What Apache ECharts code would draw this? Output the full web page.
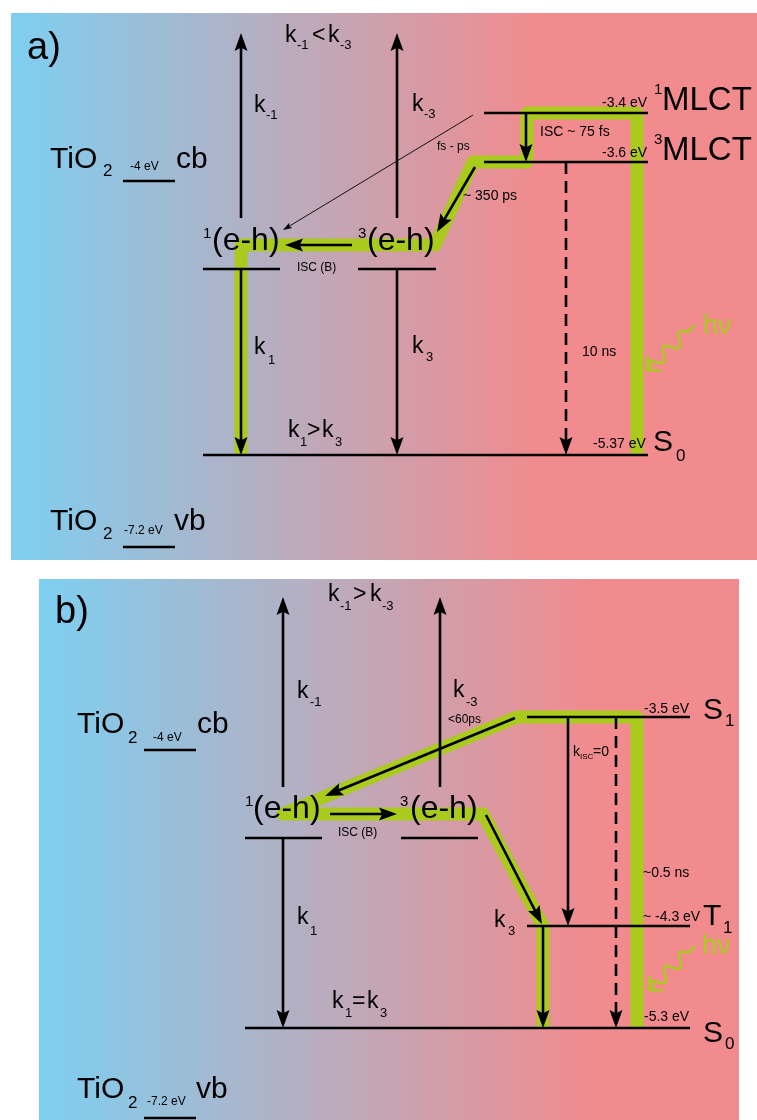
<!DOCTYPE html>
<html><head><meta charset="utf-8">
<script src="https://cdn.jsdelivr.net/npm/echarts@6/dist/echarts.min.js"></script>
<style>html,body{margin:0;padding:0;background:#fff}#c{width:757px;height:1120px}</style>
</head><body><div id="c"></div>
<script>
// Panel backgrounds: [x0, y0, x1, y1, position where pink is reached]
const panels = [[11, 13, 757, 560, 0.71], [39, 579, 739, 1120, 0.79]];
// Energy level bars: [x0, x1, y]
const levels = [
  [123, 175, 181], [123, 175, 547], [203, 280, 269], [358, 436, 269],
  [484, 648, 113], [484, 648, 162], [203, 648, 455],
  [144, 196, 750], [144, 196, 1118], [245, 322, 838], [401, 478, 838],
  [527, 690, 717], [527, 690, 926], [245, 690, 1028]
];
// Green electron pathways (polylines)
const greenPaths = [
  [[241, 455], [241, 245], [435, 245], [473, 162], [527, 162], [527, 113], [637, 113], [637, 455]],
  [[637, 1028], [637, 717], [517, 717], [283, 814], [483, 814], [543, 926], [543, 1028]]
];
// Solid arrows: [x0, y0, x1(tip), y1(tip)]
const arrows = [
  [241, 218, 241, 33], [397, 218, 397, 33], [241, 270, 241, 455], [397, 270, 397, 455],
  [526, 113, 526, 162], [475, 167, 437, 232], [352, 245, 285, 245],
  [283, 787, 283, 597], [440, 787, 440, 597], [283, 838, 283, 1028], [543, 926, 543, 1028],
  [330, 814, 397, 814], [515, 718, 325, 796], [486, 815, 542, 924], [568, 717, 568, 926]
];
const dashedArrows = [[566, 162, 566, 455], [616, 717, 616, 1028]];
const thinArrows = [[473, 115, 283, 230]];
const photonArrows = [[695, 325, 647, 370], [695, 946, 649, 990]];
// Text labels: [text, x, y, kind]
const labels = [
  ['a)', 27, 49, 'panel'],
  ['TiO', 50, 160, 'big'], ['2', 103, 171, 'sub'], ['-4 eV', 130, 167, 'tiny'], ['cb', 176, 160, 'big'],
  ['k', 254, 106, 'k'], ['-1', 266, 115, 'ksub'],
  ['k', 285, 36, 'k'], ['-1', 297, 45, 'ksub'], ['<', 312, 36, 'k'], ['k', 328, 36, 'k'], ['-3', 340, 45, 'ksub'],
  ['k', 412, 105, 'k'], ['-3', 424, 114, 'ksub'],
  ['1', 203, 234, 'sup'], ['(e-h)', 212, 241, 'eh'],
  ['3', 358, 234, 'sup'], ['(e-h)', 367, 241, 'eh'],
  ['ISC (B)', 297, 268, 'tiny'],
  ['fs - ps', 437, 147, 'tiny'],
  ['~ 350 ps', 463, 196, 'small'],
  ['ISC ~ 75 fs', 540, 132, 'small'],
  ['-3.4 eV', 602, 103, 'small'], ['1', 654, 90, 'sup'], ['MLCT', 662, 101, 'mlct'],
  ['-3.6 eV', 602, 153, 'small'], ['3', 654, 140, 'sup'], ['MLCT', 662, 151, 'mlct'],
  ['10 ns', 582, 352, 'small'],
  ['-5.37 eV', 593, 444, 'small'], ['S', 653, 443, 'big'], ['0', 676, 456, 'sub'],
  ['hν', 703, 327, 'hv'],
  ['k', 254, 348, 'k'], ['1', 268, 360, 'ksub'],
  ['k', 288, 431, 'k'], ['1', 300, 442, 'ksub'], ['>', 307, 431, 'k'], ['k', 322, 431, 'k'], ['3', 335, 442, 'ksub'],
  ['k', 412, 347, 'k'], ['3', 426, 357, 'ksub'],
  ['TiO', 50, 522, 'big'], ['2', 103, 534, 'sub'], ['-7.2 eV', 124, 531, 'tiny'], ['vb', 174, 522, 'big'],

  ['b)', 55, 613, 'panel'],
  ['TiO', 77, 725, 'big'], ['2', 128, 738, 'sub'], ['-4 eV', 153, 738, 'tiny'], ['cb', 197, 725, 'big'],
  ['k', 297, 692, 'k'], ['-1', 310, 702, 'ksub'],
  ['k', 328, 595, 'k'], ['-1', 340, 606, 'ksub'], ['>', 353, 595, 'k'], ['k', 370, 595, 'k'], ['-3', 382, 606, 'ksub'],
  ['k', 453, 691, 'k'], ['-3', 466, 702, 'ksub'], ['<60ps', 448, 720, 'tiny'],
  ['1', 245, 802, 'sup'], ['(e-h)', 253, 809, 'eh'],
  ['3', 400, 802, 'sup'], ['(e-h)', 410, 809, 'eh'],
  ['ISC (B)', 338, 833, 'tiny'],
  ['-3.5 eV', 644, 709, 'small'], ['S', 703, 711, 'big'], ['1', 725, 721, 'sub'],
  ['k', 573, 752, 'small'], ['ISC', 580, 757, 'micro'], ['=0', 593, 752, 'small'],
  ['~0.5 ns', 643, 873, 'small'],
  ['~ -4.3 eV', 643, 917, 'small'], ['T', 703, 917, 'big'], ['1', 723, 928, 'sub'],
  ['hν', 702, 947, 'hv'],
  ['-5.3 eV', 644, 1017, 'small'], ['S', 703, 1034, 'big'], ['0', 725, 1044, 'sub'],
  ['k', 494, 921, 'k'], ['3', 508, 931, 'ksub'],
  ['k', 297, 918, 'k'], ['1', 310, 931, 'ksub'],
  ['k', 332, 1002, 'k'], ['1', 345, 1013, 'ksub'], ['=', 352, 1002, 'k'], ['k', 367, 1002, 'k'], ['3', 380, 1013, 'ksub'],
  ['TiO', 77, 1090, 'big'], ['2', 128, 1103, 'sub'], ['-7.2 eV', 147, 1102, 'tiny'], ['vb', 196, 1090, 'big']
];

const fontSizes = {panel: 38, big: 30, eh: 32, mlct: 33, k: 23, ksub: 13, sub: 17, sup: 15, small: 14, tiny: 12, micro: 8, hv: 27};
const BLUE = '#7ecff1', PINK = '#f18b8e', GREEN = '#abca1e', INK = '#000';
const FONT = '"Liberation Sans", Arial, Helvetica, sans-serif';

function head(tip, from, len, wid) {
  const dx = tip[0] - from[0], dy = tip[1] - from[1], L = Math.hypot(dx, dy);
  const ux = dx / L, uy = dy / L, px = -uy, py = ux;
  const bx = tip[0] - ux * len, by = tip[1] - uy * len;
  const nx = tip[0] - ux * len * 0.82, ny = tip[1] - uy * len * 0.82;
  return {
    poly: [tip, [bx + px * wid / 2, by + py * wid / 2], [nx, ny], [bx - px * wid / 2, by - py * wid / 2]],
    shaftEnd: [tip[0] - ux * len * 0.7, tip[1] - uy * len * 0.7]
  };
}

function drawArrow(d, api, opts) {
  const a = api.coord([d[0], d[1]]), b = api.coord([d[2], d[3]]);
  const h = head(b, a, opts.len, opts.wid);
  return {
    type: 'group', children: [
      {type: 'line', shape: {x1: a[0], y1: a[1], x2: h.shaftEnd[0], y2: h.shaftEnd[1]},
        style: {stroke: INK, lineWidth: opts.lw, lineDash: opts.dash || null}},
      {type: 'polygon', shape: {points: h.poly}, style: {fill: INK}}
    ]
  };
}

function custom(arr, z, build) {
  return {
    type: 'custom', coordinateSystem: 'cartesian2d', z: z, silent: true, clip: false,
    data: arr.map((d, i) => [i, 0]),
    renderItem: (params, api) => build(arr[params.dataIndex], api)
  };
}

function rotate(ux, uy, ang) {
  return [ux * Math.cos(ang) - uy * Math.sin(ang), uy * Math.cos(ang) + ux * Math.sin(ang)];
}

const option = {
  animation: false,
  backgroundColor: '#ffffff',
  grid: {left: 0, right: 0, top: 0, bottom: 0},
  xAxis: {type: 'value', min: 0, max: 757, show: false},
  yAxis: {type: 'value', min: 0, max: 1120, inverse: true, show: false},
  series: [
    custom(panels, 1, (d, api) => {
      const p0 = api.coord([d[0], d[1]]), p1 = api.coord([d[2], d[3]]);
      return {type: 'rect', shape: {x: p0[0], y: p0[1], width: p1[0] - p0[0], height: p1[1] - p0[1]},
        style: {fill: new echarts.graphic.LinearGradient(0, 0, 1, 0, [
          {offset: 0, color: BLUE}, {offset: d[4], color: PINK}, {offset: 1, color: PINK}])}};
    }),
    custom(greenPaths, 2, (d, api) => ({
      type: 'polyline', shape: {points: d.map(p => api.coord(p))},
      style: {stroke: GREEN, lineWidth: 13, fill: null, lineJoin: 'round', lineCap: 'butt'}
    })),
    custom(levels, 3, (d, api) => {
      const a = api.coord([d[0], d[2]]), b = api.coord([d[1], d[2]]);
      return {type: 'line', shape: {x1: a[0], y1: a[1], x2: b[0], y2: b[1]}, style: {stroke: INK, lineWidth: 2.5}};
    }),
    custom(arrows, 4, (d, api) => drawArrow(d, api, {len: 18, wid: 13, lw: 2.6})),
    custom(dashedArrows, 4, (d, api) => drawArrow(d, api, {len: 18, wid: 13, lw: 2.6, dash: [12, 7]})),
    custom(thinArrows, 4, (d, api) => drawArrow(d, api, {len: 9, wid: 6, lw: 0.9})),
    custom(photonArrows, 4, (d, api) => {
      const a = api.coord([d[0], d[1]]), b = api.coord([d[2], d[3]]);
      const dx = b[0] - a[0], dy = b[1] - a[1], L = Math.hypot(dx, dy);
      const ux = dx / L, uy = dy / L, px = -uy, py = ux;
      const pts = [];
      const t0 = 0.16, t1 = 0.9;
      for (let i = 0; i <= 100; i++) {
        const t = i / 100;
        let off = 0;
        if (t > t0 && t < t1) off = 6 * Math.sin((t - t0) / (t1 - t0) * 2.25 * 2 * Math.PI);
        pts.push([a[0] + dx * t + px * off, a[1] + dy * t + py * off]);
      }
      const hl = 14;
      const r1 = rotate(ux, uy, Math.PI / 4), r2 = rotate(ux, uy, -Math.PI / 4);
      const h1 = [b[0] - hl * r1[0], b[1] - hl * r1[1]];
      const h2 = [b[0] - hl * r2[0], b[1] - hl * r2[1]];
      return {type: 'group', children: [
        {type: 'polyline', shape: {points: pts}, style: {stroke: GREEN, lineWidth: 2.4, fill: null, lineJoin: 'round'}},
        {type: 'polyline', shape: {points: [h1, b, h2]}, style: {stroke: GREEN, lineWidth: 2.4, fill: null}}
      ]};
    }),
    custom(labels, 5, (d, api) => {
      const p = api.coord([d[1], d[2]]);
      return {type: 'text', x: p[0], y: p[1], style: {
        text: d[0], fontSize: fontSizes[d[3]], fontFamily: FONT,
        fill: d[3] === 'hv' ? GREEN : INK,
        align: 'left', verticalAlign: 'middle', textAlign: 'left', textVerticalAlign: 'middle'
      }};
    })
  ]
};

const chart = echarts.init(document.getElementById('c'), null, {renderer: 'canvas'});
chart.setOption(option);
</script>
</body></html>
